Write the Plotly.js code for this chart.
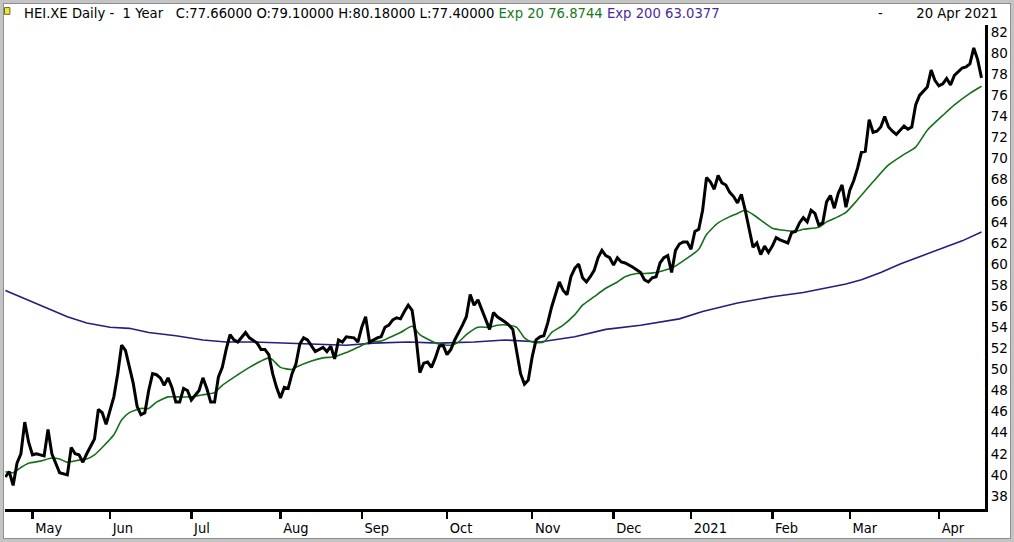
<!DOCTYPE html>
<html>
<head>
<meta charset="utf-8">
<script src="https://cdn.plot.ly/plotly-3.0.1.min.js"></script>
<style>
html,body{margin:0;padding:0;background:#fff;}
#wrap{position:relative;width:1014px;height:542px;}
#chart{position:absolute;left:0;top:0;width:1014px;height:542px;}
#frame{position:absolute;left:0;top:0;width:1014px;height:542px;box-sizing:border-box;border:3px solid #c4c4c4;box-shadow:inset 0 0 0 1px #8e8e8e;pointer-events:none;}
</style>
</head>
<body>
<div id="wrap"><div id="chart"></div><div id="frame"></div></div>
<script>
// Trading-day index (0 = first bar, late Apr 2020) and daily close
const closeDay = [0,1,2,3,4,5,6,7,8,10,11,12,14,16,17,18,19,20,21,23,24,25,26,28,29,30,31,32,33,34,35,36,37,38,39,40,41,42,43,44,45,46,47,48,50,51,52,53,54,55,56,57,58,59,60,62,63,65,66,67,68,69,70,71,72,73,74,75,76,77,78,80,81,82,83,84,85,86,87,88,90,91,92,93,94,96,97,98,99,100,101,102,103,104,105,106,107,108,109,110,111,112,113,114,115,116,118,119,120,121,122,123,124,125,126,127,129,130,131,132,133,134,135,136,137,138,139,140,141,143,144,145,146,147,148,149,150,151,152,153,154,155,156,157,158,159,160,162,164,165,166,167,168,169,170,171,172,173,174,175,176,177,178,179,180,181,182,183,184,185,186,187,188,189,190,191,192,193,194,195,196,197,198,199,200,202,203,204,205,206,207,208,209,210,211,212,213,214,215,216,217,218,219,220,221,222,223,224,225,226,227,228,229,230,231,232,233,234,235,236,238,239,240,241,242,243,244,245,247,248,249,250,251,252];
const closeVal = [39.8,40.3,39.0,41.1,42.0,45.0,43.1,41.9,42.0,41.8,44.3,42.0,40.2,40.0,42.6,42.0,41.9,41.2,42.0,43.4,46.2,45.9,44.8,47.4,49.6,52.3,51.8,50.2,48.7,46.5,45.7,45.9,48.0,49.6,49.5,49.2,48.5,49.2,48.3,46.9,46.9,48.2,48.0,47.1,48.0,49.2,48.2,46.9,46.9,49.3,50.2,51.9,53.3,52.8,52.6,53.5,53.0,52.5,51.9,51.9,51.4,49.6,48.3,47.3,48.3,48.2,49.6,50.5,52.4,53.0,52.8,51.7,51.9,52.1,51.7,52.2,51.0,52.8,52.6,53.1,53.0,52.6,54.0,55.0,52.6,53.0,53.1,54.0,54.2,54.7,54.9,54.8,55.5,56.1,55.6,53.1,49.7,50.6,50.7,50.2,51.1,52.2,52.3,51.4,51.9,52.8,54.2,55.0,57.1,56.1,56.6,55.6,54.6,53.8,55.4,55.0,54.5,54.2,53.8,51.6,49.6,48.6,49.0,51.2,52.8,53.1,53.2,54.4,55.9,58.3,57.5,57.1,58.8,59.6,60.0,58.7,58.3,58.8,59.4,60.6,61.3,60.8,60.6,59.9,60.6,60.2,60.1,59.7,59.2,58.5,58.3,58.7,58.8,60.1,60.6,60.8,59.2,61.3,61.9,62.1,62.1,61.4,63.1,63.3,65.1,68.2,67.8,67.1,68.4,67.7,67.5,66.8,66.4,65.8,66.6,65.1,63.3,61.6,62.0,60.9,61.7,61.1,61.7,62.5,62.3,62.0,63.0,63.1,63.9,64.4,64.0,65.1,64.8,63.7,63.9,65.9,66.5,65.3,66.7,67.5,65.4,67.0,67.9,69.1,70.6,70.7,73.7,72.5,72.6,73.0,74.0,73.0,72.6,72.3,72.7,73.1,72.8,73.0,75.1,76.0,76.8,78.4,77.4,76.9,77.1,77.6,77.0,77.9,78.6,78.7,79.0,80.5,79.4,77.66];

// Exponential moving average 20
const ema20Day = [0,2,4,6,9,12,14,16,19,21,23,25,28,30,32,35,37,39,42,44,48,51,54,56,60,63,66,68,69,71,74,75,79,82,85,88,91,94,97,99,102,105,107,110,112,115,117,119,122,125,127,130,132,134,136,139,141,144,147,149,152,155,158,160,163,165,168,171,172,175,179,181,184,187,189,191,193,196,198,201,204,206,210,212,215,217,220,224,228,232,235,238,242,245,249,252];
const ema20Val = [40.3,40.2,40.7,41.1,41.3,41.6,41.5,41.2,41.4,41.5,41.9,42.6,43.8,45.2,45.9,46.3,46.3,46.9,47.4,47.4,47.4,47.6,47.8,48.5,49.5,50.2,50.8,51.1,50.9,50.2,50.0,50.2,50.8,51.1,51.2,51.6,52.1,52.6,52.7,53.0,53.5,54.1,53.3,52.7,52.4,52.3,52.6,53.3,54.0,54.0,54.2,54.2,54.0,53.0,52.6,52.6,53.5,54.2,55.2,56.1,56.9,57.7,58.3,58.8,59.1,59.1,59.2,59.5,59.6,60.3,61.4,62.8,63.9,64.5,64.8,65.1,64.7,63.9,63.4,63.2,63.1,63.3,63.5,64.0,64.5,64.9,66.1,67.8,69.4,70.4,71.1,72.7,74.1,75.1,76.2,76.87];

// Exponential moving average 200
const ema200Day = [0,4,9,16,21,27,32,37,44,51,57,64,73,81,88,95,104,112,121,129,138,147,155,164,174,180,189,198,206,217,221,226,231,236,241,247,252];
const ema200Val = [57.5,56.9,56.1,55.0,54.4,54.0,53.9,53.5,53.2,52.8,52.6,52.6,52.5,52.4,52.3,52.5,52.6,52.5,52.6,52.8,52.6,53.1,53.8,54.2,54.8,55.5,56.3,56.9,57.3,58.1,58.5,59.2,60.0,60.7,61.4,62.2,63.04];

// Month ticks (trading-day index of first bar of month)
const monthTickDay = [7,27,48,71,92,114,136,157,177,198,218,241];
const monthTickText = ['May','Jun','Jul','Aug','Sep','Oct','Nov','Dec','2021','Feb','Mar','Apr'];

const priceTickVals = [38,40,42,44,46,48,50,52,54,56,58,60,62,64,66,68,70,72,74,76,78,80,82];

const FONT = '"DejaVu Sans", sans-serif';
const FONT_X = '"DejaVu Sans Condensed", "DejaVu Sans", sans-serif';

const traces = [
  {x: ema200Day, y: ema200Val, type: 'scatter', mode: 'lines',
   line: {color: '#261d7e', width: 1.6}, hoverinfo: 'skip'},
  {x: ema20Day, y: ema20Val, type: 'scatter', mode: 'lines',
   line: {color: '#16701a', width: 1.6, shape: 'spline', smoothing: 0.6}, hoverinfo: 'skip'},
  {x: closeDay, y: closeVal, type: 'scatter', mode: 'lines',
   line: {color: '#000000', width: 3}, hoverinfo: 'skip'}
];

const header = 'HEI.XE Daily -\u00a0 1 Year\u00a0\u00a0 C:77.66000 O:79.10000 H:80.18000 L:77.40000 ' +
  '<span style="color:#17781c">Exp 20 76.8744</span> ' +
  '<span style="color:#4a2a9c">Exp 200 63.0377</span>';

const layout = {
  width: 1014, height: 542,
  margin: {l: 5, r: 29, t: 25, b: 33, pad: 0},
  paper_bgcolor: '#ffffff', plot_bgcolor: '#ffffff',
  showlegend: false,
  font: {family: FONT, size: 13, color: '#000'},
  xaxis: {
    range: [-0.1, 252.9], type: 'linear',
    showgrid: false, zeroline: false,
    showline: true, linecolor: '#000', linewidth: 3,
    ticks: 'outside', ticklen: 7, tickwidth: 2.5, tickcolor: '#000',
    tickvals: monthTickDay, ticktext: monthTickText,
    ticklabelposition: 'outside right',
    ticklabelstandoff: 4,
    tickfont: {family: FONT_X, size: 14.5, color: '#000'},
    fixedrange: true
  },
  yaxis: {
    side: 'right', range: [36.76, 82.68],
    showgrid: false, zeroline: false,
    showline: true, linecolor: '#000', linewidth: 3,
    ticks: '', tickvals: priceTickVals,
    tickfont: {family: FONT, size: 13.5, color: '#000'},
    fixedrange: true
  },
  annotations: [
    {xref: 'paper', yref: 'paper', x: 0, y: 1, xanchor: 'left', yanchor: 'bottom',
     xshift: 17, yshift: 2, showarrow: false, text: header,
     font: {family: FONT, size: 13.2, color: '#000'}},
    {xref: 'paper', yref: 'paper', x: 1, y: 1, xanchor: 'right', yanchor: 'bottom',
     xshift: 15, yshift: 2, showarrow: false, text: '-\u00a0\u00a0\u00a0\u00a0\u00a0\u00a0\u00a0 20 Apr 2021',
     font: {family: FONT, size: 13.2, color: '#000'}}
  ],
  shapes: [
    {type: 'rect', xref: 'paper', yref: 'paper', x0: -0.0005, x1: 0.005, y0: 1.022, y1: 1.036,
     fillcolor: '#f2e23a', line: {color: '#6a6a20', width: 1}}
  ]
};

Plotly.newPlot('chart', traces, layout, {staticPlot: true, displayModeBar: false});
</script>
</body>
</html>
